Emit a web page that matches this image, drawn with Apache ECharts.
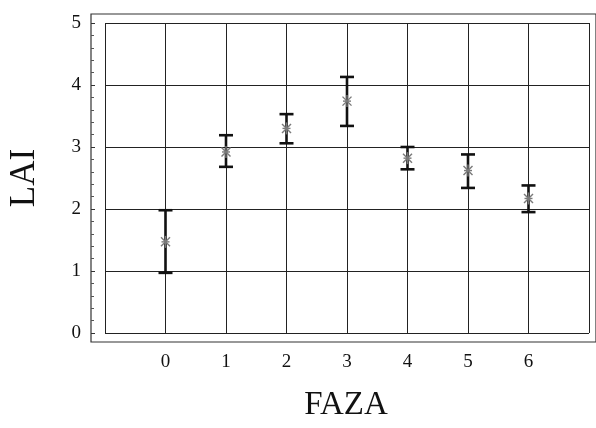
<!DOCTYPE html>
<html>
<head>
<meta charset="utf-8">
<script src="https://cdn.jsdelivr.net/npm/echarts@6/dist/echarts.min.js"></script>
<style>
  html, body { margin: 0; padding: 0; background: #fff; }
  #chart { width: 596px; height: 428px; }
</style>
</head>
<body>
<div id="chart"></div>
<script>
// Phase (FAZA) categories and LAI statistics per phase
var phases = [0, 1, 2, 3, 4, 5, 6];
var laiMean = [1.47, 2.92, 3.30, 3.74, 2.82, 2.62, 2.17];
var laiLow  = [0.97, 2.68, 3.06, 3.34, 2.64, 2.34, 1.95];
var laiHigh = [1.98, 3.19, 3.53, 4.13, 3.00, 2.88, 2.38];
var xTickLabels = ['0', '1', '2', '3', '4', '5', '6'];
var yTickLabels = ['0', '1', '2', '3', '4', '5'];

var serif = '"Liberation Serif", "DejaVu Serif", serif';

var barData = phases.map(function (p, i) { return [p, laiLow[i], laiHigh[i]]; });
var meanData = phases.map(function (p, i) { return [p, laiMean[i]]; });

function renderErrorBar(params, api) {
  var x = api.value(0);
  var lo = api.coord([x, api.value(1)]);
  var hi = api.coord([x, api.value(2)]);
  var cap = 7;
  var style = { stroke: '#111', lineWidth: 2.6 };
  return {
    type: 'group',
    children: [
      { type: 'line', shape: { x1: lo[0], y1: lo[1], x2: hi[0], y2: hi[1] }, style: style },
      { type: 'line', shape: { x1: hi[0] - cap, y1: hi[1], x2: hi[0] + cap, y2: hi[1] }, style: style },
      { type: 'line', shape: { x1: lo[0] - cap, y1: lo[1], x2: lo[0] + cap, y2: lo[1] }, style: style }
    ]
  };
}

// asterisk marker for the mean
function renderMean(params, api) {
  var c = api.coord([api.value(0), api.value(1)]);
  var r = 6;
  var d = 4.5;
  var st = { stroke: '#7a7a7a', lineWidth: 1.4 };
  return {
    type: 'group',
    children: [
      { type: 'line', shape: { x1: c[0], y1: c[1] - r, x2: c[0], y2: c[1] + r }, style: st },
      { type: 'line', shape: { x1: c[0] - d, y1: c[1] - d, x2: c[0] + d, y2: c[1] + d }, style: st },
      { type: 'line', shape: { x1: c[0] - d, y1: c[1] + d, x2: c[0] + d, y2: c[1] - d }, style: st },
      { type: 'line', shape: { x1: c[0] - 4, y1: c[1], x2: c[0] + 4, y2: c[1] }, style: st }
    ]
  };
}

var chart = echarts.init(document.getElementById('chart'), null, { renderer: 'canvas' });
chart.setOption({
  backgroundColor: '#ffffff',
  animation: false,
  grid: [
    // outer frame
    { left: 91, top: 14, right: -6, bottom: 86, show: true, borderColor: '#333', borderWidth: 1.2, backgroundColor: 'transparent' },
    // plotting area
    { left: 105, top: 23, right: 7, bottom: 95 }
  ],
  xAxis: [
    { gridIndex: 0, type: 'value', show: false, min: 0, max: 1 },
    {
      gridIndex: 1, type: 'value', min: -1, max: 7, interval: 1,
      offset: 9,
      axisLine: { show: false, onZero: false },
      axisTick: { show: false },
      axisLabel: {
        margin: 11, color: '#111', fontFamily: serif, fontSize: 19,
        formatter: function (v) {
          var i = phases.indexOf(v);
          return i >= 0 ? xTickLabels[i] : '';
        }
      },
      splitLine: { show: true, lineStyle: { color: '#222', width: 1 } }
    }
  ],
  yAxis: [
    { gridIndex: 0, type: 'value', show: false, min: 0, max: 1 },
    {
      gridIndex: 1, type: 'value', min: 0, max: 5, interval: 1,
      offset: 14,
      axisLine: { show: false, onZero: false },
      axisTick: { show: true, inside: true, length: 4, lineStyle: { color: '#333' } },
      minorTick: { show: true, splitNumber: 5, length: 3, lineStyle: { color: '#555' } },
      axisLabel: {
        margin: 10, color: '#111', fontFamily: serif, fontSize: 19,
        formatter: function (v) { return yTickLabels[v] !== undefined ? yTickLabels[v] : ''; }
      },
      splitLine: { show: true, lineStyle: { color: '#222', width: 1 } }
    }
  ],
  series: [
    {
      type: 'custom', xAxisIndex: 1, yAxisIndex: 1,
      renderItem: renderErrorBar, data: barData, z: 3,
      encode: { x: 0, y: [1, 2] }
    },
    {
      type: 'custom', xAxisIndex: 1, yAxisIndex: 1,
      renderItem: renderMean, data: meanData, z: 4,
      encode: { x: 0, y: 1 }
    }
  ],
  graphic: [
    {
      type: 'text', x: 25, y: 178, rotation: Math.PI / 2,
      style: { text: 'LAI', font: '35px ' + serif, fill: '#111', align: 'center', verticalAlign: 'middle' }
    },
    {
      type: 'text', x: 346, y: 405,
      style: { text: 'FAZA', font: '33px ' + serif, fill: '#111', align: 'center', verticalAlign: 'middle' }
    }
  ]
});
</script>
</body>
</html>
